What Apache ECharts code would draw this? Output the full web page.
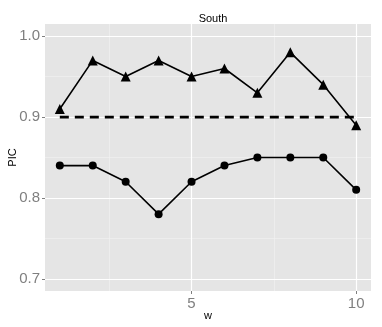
<!DOCTYPE html>
<html lang="en">
<head>
<meta charset="UTF-8">
<title>South</title>
<script src="https://cdn.jsdelivr.net/npm/echarts@6/dist/echarts.min.js"></script>
<style>
  html, body { margin: 0; padding: 0; background: #fff; }
  #chart { width: 382px; height: 327px; }
</style>
</head>
<body>
<div id="chart"></div>
<script>
var w = [1, 2, 3, 4, 5, 6, 7, 8, 9, 10];
var upper = [0.91, 0.97, 0.95, 0.97, 0.95, 0.96, 0.93, 0.98, 0.94, 0.89];
var lower = [0.84, 0.84, 0.82, 0.78, 0.82, 0.84, 0.85, 0.85, 0.85, 0.81];
var refLevel = 0.9;
var xTicks = [5, 10];
var xMinor = [2.5, 7.5];
var yTicks = [0.7, 0.8, 0.9, 1.0];
var yMinor = [0.75, 0.85, 0.95];

function pairs(xs, ys) {
    return xs.map(function (x, i) { return [x, ys[i]]; });
}

var gridLines = [];
xMinor.forEach(function (v) { gridLines.push({ xAxis: v, lineStyle: { color: '#F2F2F2', width: 0.6, type: 'solid' } }); });
yMinor.forEach(function (v) { gridLines.push({ yAxis: v, lineStyle: { color: '#F2F2F2', width: 0.6, type: 'solid' } }); });
xTicks.forEach(function (v) { gridLines.push({ xAxis: v, lineStyle: { color: '#FFFFFF', width: 1.2, type: 'solid' } }); });
yTicks.forEach(function (v) { gridLines.push({ yAxis: v, lineStyle: { color: '#FFFFFF', width: 1.2, type: 'solid' } }); });

var chart = echarts.init(document.getElementById('chart'));
chart.setOption({
    animation: false,
    title: {
        text: 'South', left: 208, top: 8, textAlign: 'center',
        textStyle: { fontSize: 11, fontWeight: 'normal', color: '#000', fontFamily: 'Liberation Sans' }
    },
    grid: {
        left: 45, right: 11, top: 24, bottom: 36,
        containLabel: false, outerBoundsMode: 'none',
        show: true, backgroundColor: '#E5E5E5', borderWidth: 0
    },
    xAxis: {
        type: 'value', min: 0.55, max: 10.45,
        name: 'w', nameLocation: 'middle', nameGap: 19, nameMoveOverlap: false,
        nameTextStyle: { fontSize: 11, color: '#000', fontFamily: 'Liberation Sans' },
        axisLine: { show: false },
        splitLine: { show: false },
        axisTick: { show: true, length: 3, lineStyle: { color: '#7F7F7F' }, customValues: xTicks },
        axisLabel: { fontSize: 15, color: '#7F7F7F', margin: 5, fontFamily: 'Liberation Sans', customValues: xTicks }
    },
    yAxis: {
        type: 'value', min: 0.685, max: 1.015,
        name: 'PIC', nameLocation: 'middle', nameGap: 27, nameMoveOverlap: false,
        nameTextStyle: { fontSize: 11, color: '#000', fontFamily: 'Liberation Sans' },
        axisLine: { show: false },
        splitLine: { show: false },
        axisTick: { show: true, length: 3, lineStyle: { color: '#7F7F7F' }, customValues: yTicks },
        axisLabel: {
            fontSize: 15, color: '#7F7F7F', margin: 5, fontFamily: 'Liberation Sans', customValues: yTicks,
            formatter: function (v) { return v.toFixed(1); }
        }
    },
    series: [
        {
            type: 'line', data: [], silent: true, z: 0, zlevel: 0,
            markLine: { silent: true, symbol: 'none', label: { show: false }, data: gridLines }
        },
        {
            type: 'line', data: [[w[0], refLevel], [w[w.length - 1], refLevel]], z: 3, zlevel: 1,
            showSymbol: false, symbol: 'none',
            lineStyle: { color: '#000', width: 2.8, type: [9, 6] }
        },
        {
            type: 'line', data: pairs(w, upper), z: 4, zlevel: 1,
            symbol: 'triangle', symbolSize: 10,
            itemStyle: { color: '#000' },
            lineStyle: { color: '#000', width: 1.6 }
        },
        {
            type: 'line', data: pairs(w, lower), z: 4, zlevel: 1,
            symbol: 'circle', symbolSize: 8,
            itemStyle: { color: '#000' },
            lineStyle: { color: '#000', width: 1.6 }
        }
    ]
});
</script>
</body>
</html>
